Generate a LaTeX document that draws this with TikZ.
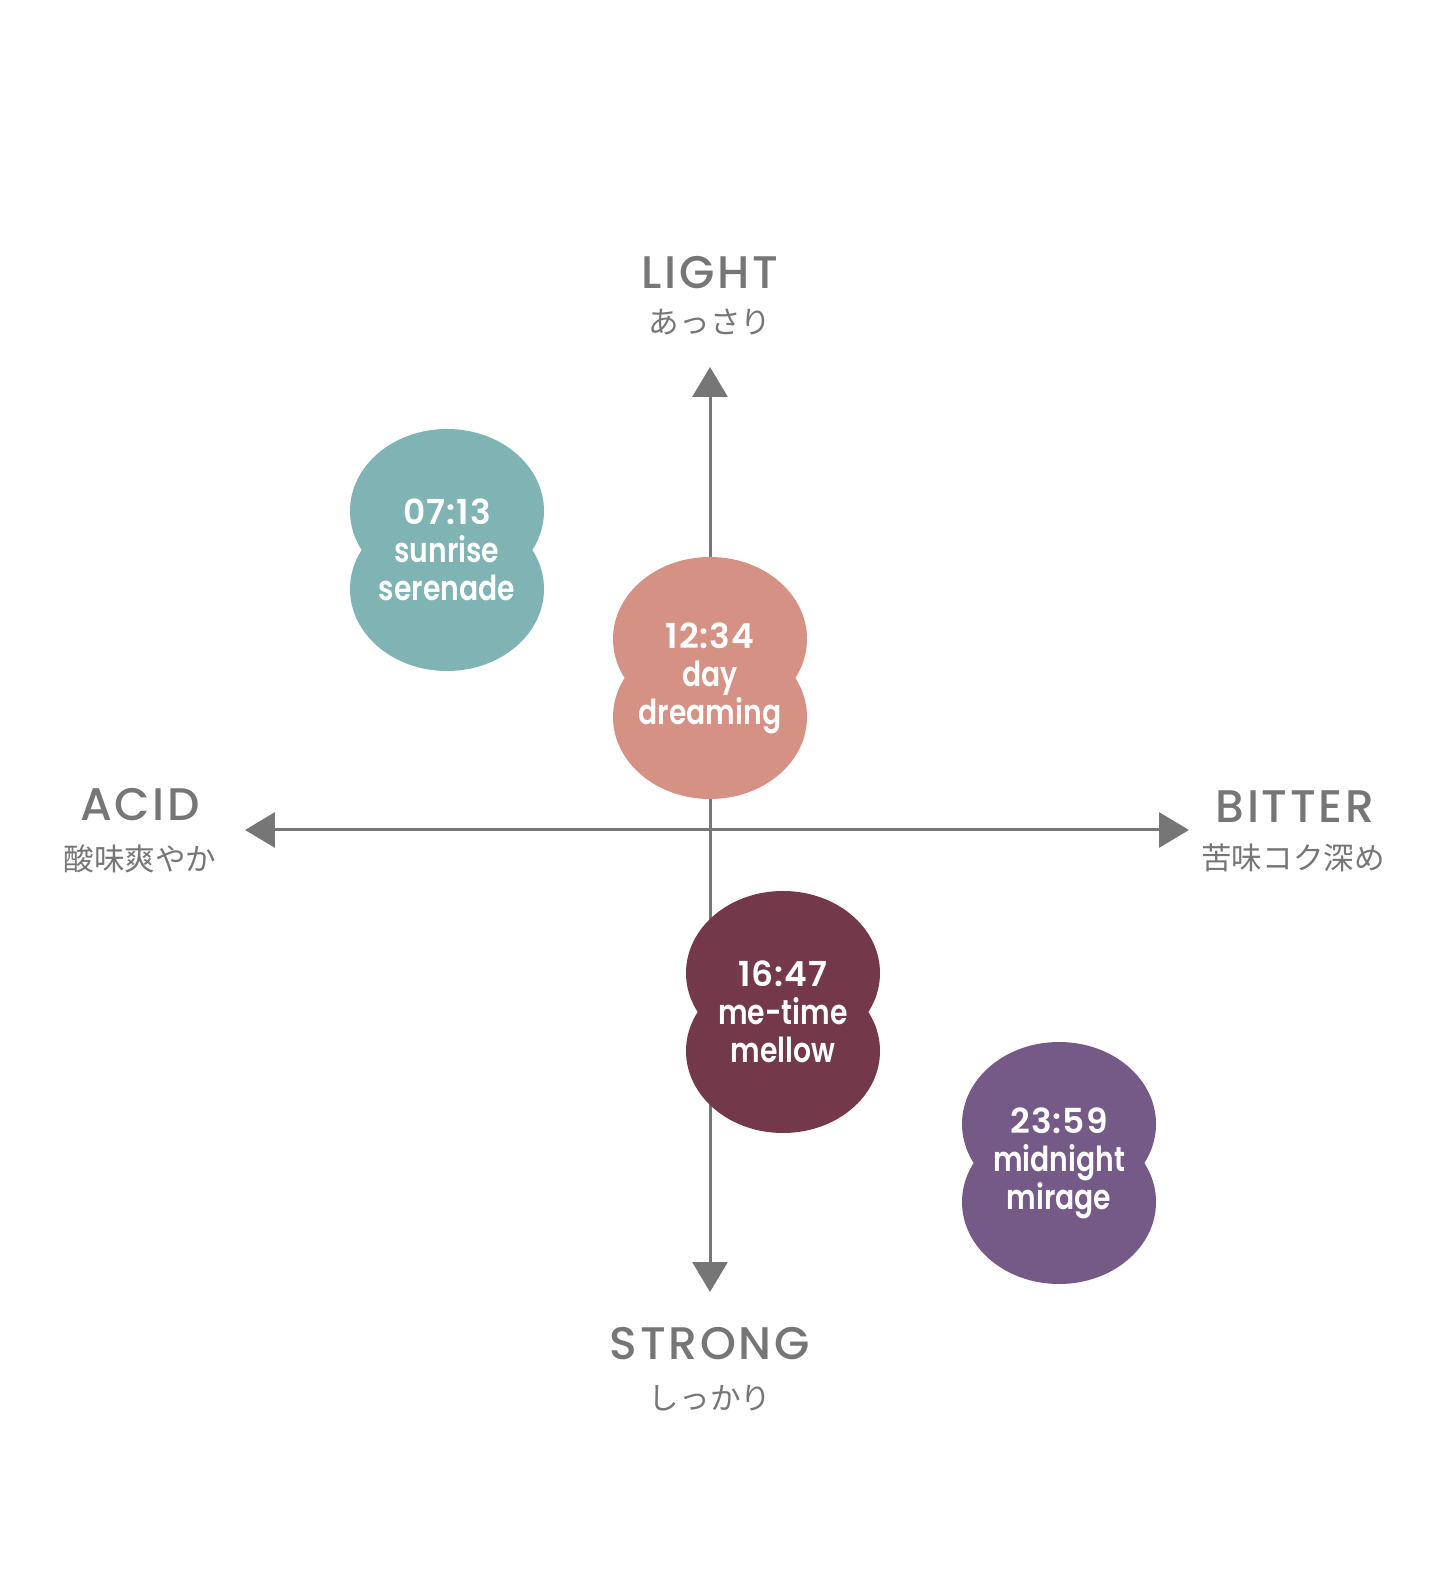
\documentclass[tikz,border=0pt]{standalone}
\usepackage{fontspec}
\usepackage{tikz}
\usetikzlibrary{arrows.meta}
\newfontfamily\axisfont[LetterSpace=6]{Poppins Medium}
\newfontfamily\blobfont[FakeStretch=0.82]{Poppins SemiBold}
\newfontfamily\timefont[LetterSpace=3]{Poppins SemiBold}
\newfontfamily\jpfont{Noto Sans CJK JP}
\definecolor{axisgray}{HTML}{767676}
\definecolor{teal}{HTML}{80B4B4}
\definecolor{salmon}{HTML}{D49184}
\definecolor{maroon}{HTML}{733849}
\definecolor{plum}{HTML}{755A87}
\tikzset{
  axis/.style={draw=axisgray, line width=0.85pt, {Triangle[length=3mm, width=3.5mm]}-{Triangle[length=3mm, width=3.5mm]}},
  axislabel/.style={text=axisgray, inner sep=0pt, font=\axisfont\fontsize{13}{15}\selectfont},
  jplabel/.style={text=axisgray, inner sep=0pt, font=\jpfont\fontsize{8.7}{10}\selectfont},
  blobtext/.style={text=white, align=center, inner sep=0pt, font=\blobfont\fontsize{9.8}{10.8}\selectfont}
}
\begin{document}
\begin{tikzpicture}
	\useasboundingbox (-7.10,-7.59) rectangle (7.35,8.30);
	%% axes
	\coordinate (top) at (0,4.63);
	\coordinate (bottom) at (0,-4.62);
	\coordinate (left) at (-4.65,0);
	\coordinate (right) at (4.79,0);
	\draw[axis] (bottom) -- (top);
	\draw[axis] (left) -- (right);
	\node[axislabel] (light) at (0,5.57) {LIGHT};
	\node[jplabel] (lightjp) at (0,5.08) {あっさり};
	\node[axislabel] (acid) at (-5.70,0.25) {ACID};
	\node[jplabel] (acidjp) at (-5.70,-0.29) {酸味爽やか};
	\node[axislabel] (bitter) at (5.85,0.23) {BITTER};
	\node[jplabel] (bitterjp) at (5.83,-0.28) {苦味コク深め};
	\node[axislabel] (strong) at (0,-5.14) {STRONG};
	\node[jplabel] (strongjp) at (0,-5.68) {しっかり};
	%% blobs
	\fill[teal] (-2.63,3.19) ellipse (0.97 and 0.82) (-2.63,2.41) ellipse (0.97 and 0.82);
	\node[blobtext] (sunrise) at (-2.63,2.80) {{\timefont 07:13}\\sunrise\\serenade};
	\fill[salmon] (0,1.91) ellipse (0.97 and 0.82) (0,1.13) ellipse (0.97 and 0.82);
	\node[blobtext] (day) at (0,1.52) {{\timefont 12:34}\\day\\dreaming};
	\fill[maroon] (0.73,-1.43) ellipse (0.97 and 0.82) (0.73,-2.21) ellipse (0.97 and 0.82);
	\node[blobtext] (metime) at (0.73,-1.82) {{\timefont 16:47}\\me-time\\mellow};
	\fill[plum] (3.49,-2.94) ellipse (0.97 and 0.82) (3.49,-3.72) ellipse (0.97 and 0.82);
	\node[blobtext] (midnight) at (3.49,-3.33) {{\timefont 23:59}\\midnight\\mirage};
\end{tikzpicture}
\end{document}
